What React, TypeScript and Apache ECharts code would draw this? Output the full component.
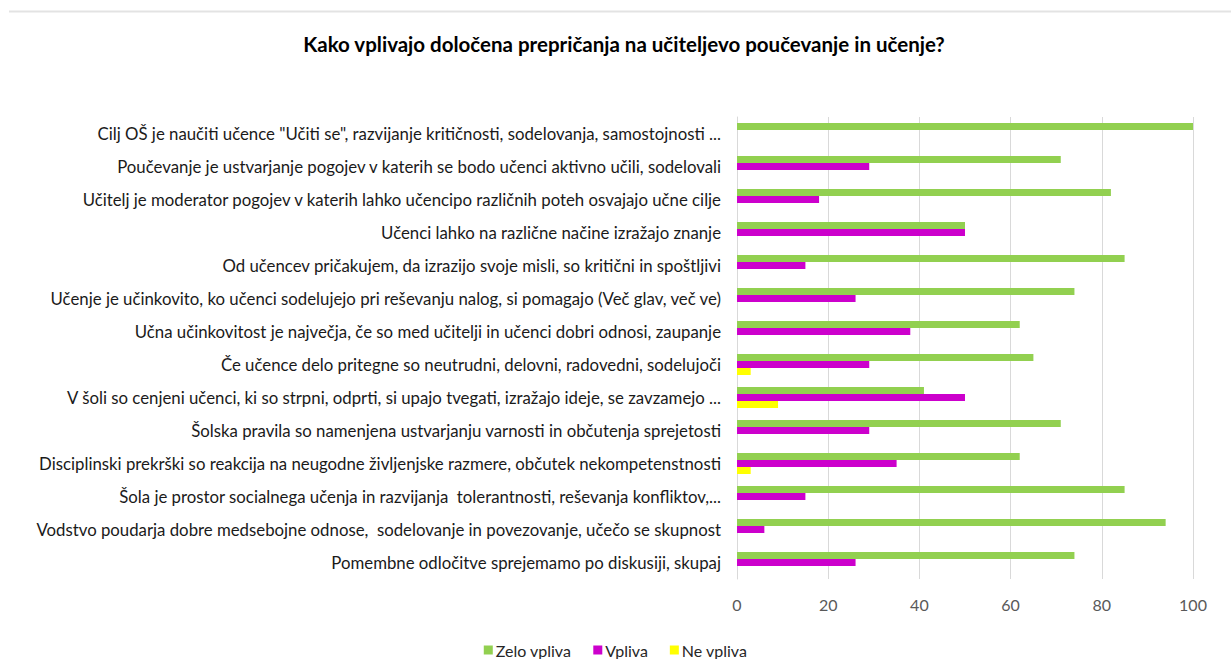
import React, { useEffect, useRef } from "react";
import * as echarts from "echarts";

const categories = [
  'Cilj OŠ je naučiti učence "Učiti se", razvijanje kritičnosti, sodelovanja, samostojnosti ...',
  "Poučevanje je ustvarjanje pogojev v katerih se bodo učenci aktivno učili, sodelovali",
  "Učitelj je moderator pogojev v katerih lahko učencipo različnih poteh osvajajo učne cilje",
  "Učenci lahko na različne načine izražajo znanje",
  "Od učencev pričakujem, da izrazijo svoje misli, so kritični in spoštljivi",
  "Učenje je učinkovito, ko učenci sodelujejo pri reševanju nalog, si pomagajo (Več glav, več ve)",
  "Učna učinkovitost je največja, če so med učitelji in učenci dobri odnosi, zaupanje",
  "Če učence delo pritegne so neutrudni, delovni, radovedni, sodelujoči",
  "V šoli so cenjeni učenci, ki so strpni, odprti, si upajo tvegati, izražajo ideje, se zavzamejo ...",
  "Šolska pravila so namenjena ustvarjanju varnosti in občutenja sprejetosti",
  "Disciplinski prekrški so reakcija na neugodne življenjske razmere, občutek nekompetenstnosti",
  "Šola je prostor socialnega učenja in razvijanja  tolerantnosti, reševanja konfliktov,...",
  "Vodstvo poudarja dobre medsebojne odnose,  sodelovanje in povezovanje, učečo se skupnost",
  "Pomembne odločitve sprejemamo po diskusiji, skupaj",
];

const zeloVpliva = [100, 71, 82, 50, 85, 74, 62, 65, 41, 71, 62, 85, 94, 74];
const vpliva = [0, 29, 18, 50, 15, 26, 38, 29, 50, 29, 35, 15, 6, 26];
const neVpliva = [0, 0, 0, 0, 0, 0, 0, 3, 9, 0, 3, 0, 0, 0];

const xTicks = { min: 0, max: 100, interval: 20 };

const FONT = "Lato, 'Open Sans', sans-serif";

export default function App() {
  const ref = useRef<HTMLDivElement>(null);
  useEffect(() => {
    if (!ref.current) return;
    const chart = echarts.init(ref.current, null, { renderer: "svg" });
    const mk = (name: string, data: number[], color: string) => ({
      name,
      type: "bar",
      data,
      barWidth: 7,
      barGap: "0%",
      itemStyle: { color },
    });
    chart.setOption({
      animation: false,
      textStyle: { fontFamily: FONT },
      graphic: [
        {
          type: "line",
          shape: { x1: 9, y1: 11.5, x2: 1231, y2: 11.5 },
          style: { stroke: "#e3e3e3", lineWidth: 2 },
        },
        {
          type: "text",
          x: 624,
          y: 44,
          style: {
            text: "Kako vplivajo določena prepričanja na učiteljevo poučevanje in učenje?",
            fill: "#000000",
            font: `bold 20.5px ${FONT}`,
            textAlign: "center",
            textVerticalAlign: "middle",
          },
        },
      ],
      legend: {
        top: 637,
        left: "center",
        itemWidth: 9,
        itemHeight: 9,
        itemGap: 22,
        icon: "rect",
        textStyle: { fontFamily: FONT, fontSize: 16, color: "#262626", padding: [0, 0, 0, -2] },
        data: ["Zelo vpliva", "Vpliva", "Ne vpliva"],
      },
      grid: { left: 737, right: 38, top: 117, bottom: 80, containLabel: false },
      xAxis: {
        type: "value",
        ...xTicks,
        axisLine: { show: false },
        axisTick: { show: false },
        axisLabel: { color: "#595959", fontSize: 16, fontFamily: FONT, margin: 17 },
        splitLine: { lineStyle: { color: "#d9d9d9", width: 1 } },
      },
      yAxis: {
        type: "category",
        inverse: true,
        data: categories,
        axisLine: { show: true, lineStyle: { color: "#d9d9d9" } },
        axisTick: { show: false },
        axisLabel: { color: "#1a1a1a", fontSize: 16.8, fontFamily: FONT, margin: 16 },
      },
      series: [
        mk("Zelo vpliva", zeloVpliva, "#92d050"),
        mk("Vpliva", vpliva, "#cc00cc"),
        mk("Ne vpliva", neVpliva, "#ffff00"),
      ],
    });
    return () => chart.dispose();
  }, []);
  return <div ref={ref} style={{ width: 1231, height: 659, position: "absolute", left: 0, top: 0 }} />;
}
